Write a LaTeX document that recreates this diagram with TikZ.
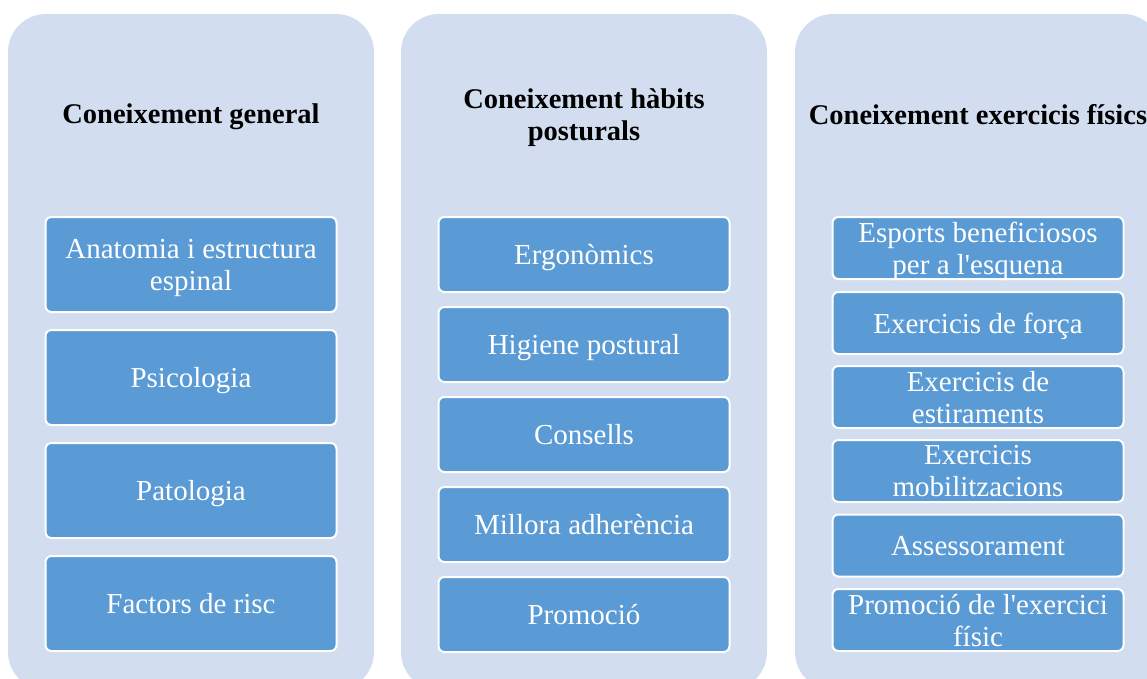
\documentclass[tikz,border=0pt]{standalone}
\usepackage{fontspec}
\setmainfont{Liberation Serif}
\definecolor{panelfill}{HTML}{D2DEEF}
\definecolor{itemfill}{HTML}{5B9BD5}
\tikzset{
  panel/.style={fill=panelfill, rounded corners=38pt, minimum width=366pt,
    minimum height=676pt, inner sep=0pt},
  heading/.style={font=\fontsize{28.5}{32}\selectfont\bfseries, align=center,
    text=black, text depth=0pt},
  item/.style={draw=white, line width=2pt, fill=itemfill, rounded corners=6pt,
    text=white, minimum width=291pt, align=center, inner sep=0pt,
    text depth=0pt, font=\fontsize{29}{32}\selectfont},
}
\begin{document}
\begin{tikzpicture}[x=1pt,y=-1pt]
  \clip (0,0) rectangle (1147,679);
  % three panels
  \node[panel] (general) at (191,352) {};
  \node[panel] (habits) at (584,352) {};
  \node[panel] (exercicis) at (978,352) {};
  \node[heading] (generalTitle) at (191,114) {Coneixement general};
  \node[heading] (habitsTitle) at (584,115) {Coneixement hàbits\\posturals};
  \node[heading] (exercicisTitle) at (978,114) {Coneixement exercicis físics};
  % general
  \begin{scope}[every node/.style={item, minimum height=95pt}]
    \node (anatomia) at (191,264.5) {Anatomia i estructura\\espinal};
    \node (psicologia) at (191,377.5) {Psicologia};
    \node (patologia) at (191,490.5) {Patologia};
    \node (factors) at (191,603.5) {Factors de risc};
  \end{scope}
  % habits posturals
  \begin{scope}[every node/.style={item, minimum height=75pt}]
    \node (ergonomics) at (584,254.5) {Ergonòmics};
    \node (higiene) at (584,344.5) {Higiene postural};
    \node (consells) at (584,434.5) {Consells};
    \node (millora) at (584,524.5) {Millora adherència};
    \node (promocio) at (584,614.5) {Promoció};
  \end{scope}
  % exercicis fisics
  \begin{scope}[every node/.style={item, minimum height=62pt}]
    \node (esports) at (978,248) {Esports beneficiosos\\per a l\textquotesingle esquena};
    \node (forca) at (978,323) {Exercicis de força};
    \node (estiraments) at (978,397) {Exercicis de\\estiraments};
    \node (mobilitzacions) at (978,471) {Exercicis\\mobilitzacions};
    \node (assessorament) at (978,545.5) {Assessorament};
    \node (promocioExercici) at (978,620) {Promoció de l\textquotesingle exercici\\físic};
  \end{scope}
\end{tikzpicture}
\end{document}
